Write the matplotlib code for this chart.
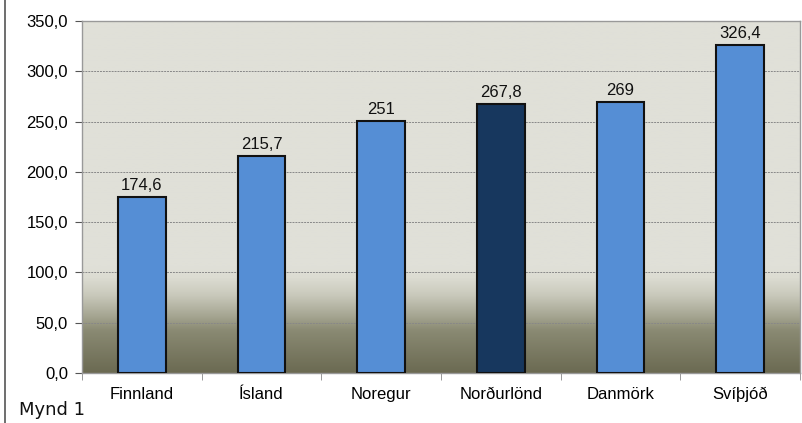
import numpy as np
import matplotlib
matplotlib.use("Agg")
import matplotlib.pyplot as plt
from matplotlib.colors import LinearSegmentedColormap
from matplotlib.lines import Line2D

categories = ["Finnland", "Ísland", "Noregur", "Norðurlönd", "Danmörk", "Svíþjóð"]
values = [174.6, 215.7, 251, 267.8, 269, 326.4]
labels = ["174,6", "215,7", "251", "267,8", "269", "326,4"]
bar_colors = ["#558ed5", "#558ed5", "#558ed5", "#17375e", "#558ed5", "#558ed5"]
yticks = [0, 50, 100, 150, 200, 250, 300, 350]
ytick_labels = ["0,0", "50,0", "100,0", "150,0", "200,0", "250,0", "300,0", "350,0"]

plt.rcParams['font.family'] = ['Liberation Sans', 'DejaVu Sans']

fig = plt.figure(figsize=(8.02, 4.23), dpi=100)
ax = fig.add_axes([82/802, 50/423, 718/802, 352/423])

# background gradient
cmap = LinearSegmentedColormap.from_list("bg", [
    (0.0, "#6b6a52"),
    (0.12, "#8a8a73"),
    (0.16, "#a5a591"),
    (0.22, "#c9c9bb"),
    (0.27, "#dcdcd2"),
    (0.30, "#e0e0d8"),
    (1.0, "#e0e0d8"),
])
grad = np.linspace(0, 1, 512).reshape(-1, 1)
ax.imshow(grad, aspect="auto", cmap=cmap, origin="lower",
          extent=[-0.5, len(categories) - 0.5, 0, 350], zorder=0)

x = np.arange(len(categories))
ax.bar(x, values, width=0.4, color=bar_colors, edgecolor="#111111", linewidth=1.5, zorder=3)
for xi, v, lab in zip(x, values, labels):
    ax.text(xi, v + 4, lab, ha="center", va="bottom", fontsize=12, color="#111111", zorder=4)

ax.set_xlim(-0.5, len(categories) - 0.5)
ax.set_ylim(0, 350)
ax.set_yticks(yticks)
ax.set_yticklabels(ytick_labels, fontsize=12)
ax.set_xticks(x)
ax.set_xticklabels(categories, fontsize=12)
ax.tick_params(axis="x", length=0, pad=10)
ax.set_xticks(np.arange(-0.5, len(categories), 1.0), minor=True)
ax.tick_params(axis="x", which="minor", length=5, color="#888888", direction="out")
ax.tick_params(axis="y", length=5, color="#555555", pad=5)
for t in yticks[1:-1]:
    ax.axhline(t, color="#888888", linestyle=(0, (2, 1)), linewidth=0.7, zorder=1)

for s in ax.spines.values():
    s.set_color("#999999")
    s.set_linewidth(1.0)

fig.add_artist(Line2D([4.5/802, 4.5/802], [0, 1], transform=fig.transFigure,
                      color="#555555", linewidth=1.2))
fig.text(19/802, 1 - 410/423, "Mynd 1", fontsize=13, family="DejaVu Sans",
         va="center", ha="left", color="#111111")

fig.savefig("out.png", dpi=100)
